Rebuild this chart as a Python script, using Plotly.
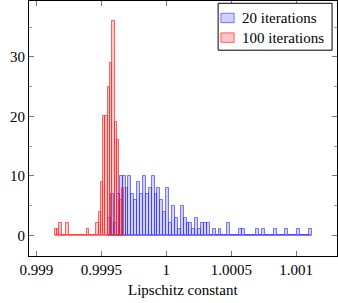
import plotly.graph_objects as go

# ---- data ----
blue_name = "20 iterations"
red_name = "100 iterations"

# 20 iterations: 70 bins
blue_first_edge = 0.9995515
blue_bin_width = 0.00002238
blue_counts = [3, 7, 2, 7, 10, 10, 8, 10, 7, 6, 9, 7, 10, 7, 8, 10, 7, 8, 6, 4,
               8, 2, 5, 3, 1, 5, 3, 2, 2, 1, 3, 1, 2, 2, 2, 0, 1, 0, 1, 0,
               0, 2, 0, 0, 0, 1, 1, 0, 0, 0, 0, 1, 0, 1, 0, 0, 0, 1, 0, 0,
               0, 1, 0, 0, 0, 1, 0, 0, 0, 1]

# 100 iterations: 30 bins
red_first_edge = 0.99914077
red_bin_width = 0.00001777
red_counts = [1, 1, 2, 0, 0, 2, 0, 0, 0, 0, 0, 0, 0, 0, 1, 0, 0, 0, 2, 4,
              9, 20, 20, 25, 29, 36, 19, 16, 6, 8]

x_tickvals = [0.999, 0.9995, 1.0, 1.0005, 1.001]
x_ticktext = ["0.999", "0.9995", "1", "1.0005", "1.001"]
y_tickvals = [0, 10, 20, 30]
y_ticktext = ["0", "10", "20", "30"]
x_title = "Lipschitz constant"

FONT = "Liberation Serif, DejaVu Serif, serif"

BLUE_FILL = "rgba(0,0,255,0.18)"
BLUE_LINE = "rgba(40,40,255,0.6)"
RED_FILL = "rgba(255,0,0,0.22)"
RED_LINE = "rgba(255,40,40,0.7)"


def centers(first, w, n):
    return [first + w * (i + 0.5) for i in range(n)]


blue_x = centers(blue_first_edge, blue_bin_width, len(blue_counts))
red_x = centers(red_first_edge, red_bin_width, len(red_counts))

fig = go.Figure()

# zero-height bins show as a baseline in the original
fig.add_trace(go.Scatter(
    x=[blue_first_edge, blue_first_edge + blue_bin_width * len(blue_counts)],
    y=[0, 0], mode="lines", line=dict(color="rgba(60,60,255,0.8)", width=1),
    showlegend=False, hoverinfo="skip"))
fig.add_trace(go.Bar(
    x=blue_x, y=blue_counts, width=blue_bin_width, name=blue_name,
    showlegend=False,
    marker=dict(color=BLUE_FILL, line=dict(color=BLUE_LINE, width=1))))

fig.add_trace(go.Scatter(
    x=[red_first_edge, red_first_edge + red_bin_width * len(red_counts)],
    y=[0, 0], mode="lines", line=dict(color="rgba(255,60,60,0.8)", width=1),
    showlegend=False, hoverinfo="skip"))
fig.add_trace(go.Bar(
    x=red_x, y=red_counts, width=red_bin_width, name=red_name,
    showlegend=False,
    marker=dict(color=RED_FILL, line=dict(color=RED_LINE, width=1))))

# legend drawn by hand (pgfplots style), in paper coordinates
shapes = [
    dict(type="rect", xref="paper", yref="paper", x0=0.614, x1=0.984,
         y0=0.807, y1=0.991, line=dict(color="black", width=1),
         fillcolor="white", layer="above"),
    dict(type="rect", xref="paper", yref="paper", x0=0.623, x1=0.666,
         y0=0.915, y1=0.952, line=dict(color=BLUE_LINE, width=1),
         fillcolor=BLUE_FILL, layer="above"),
    dict(type="rect", xref="paper", yref="paper", x0=0.623, x1=0.666,
         y0=0.838, y1=0.875, line=dict(color=RED_LINE, width=1),
         fillcolor=RED_FILL, layer="above"),
]
annotations = [
    dict(text=blue_name, xref="paper", yref="paper", x=0.685, y=0.933,
         xanchor="left", yanchor="middle", showarrow=False,
         font=dict(family=FONT, size=15, color="black")),
    dict(text=red_name, xref="paper", yref="paper", x=0.685, y=0.856,
         xanchor="left", yanchor="middle", showarrow=False,
         font=dict(family=FONT, size=15, color="black")),
    dict(text=x_title, xref="paper", yref="paper",
         x=0.5, y=-0.133, xanchor="center", yanchor="middle",
         showarrow=False, font=dict(family=FONT, size=15, color="black")),
]

fig.update_layout(
    width=338, height=303,
    margin=dict(l=29, r=1, t=1, b=47, autoexpand=False),
    barmode="overlay",
    bargap=0,
    showlegend=False,
    plot_bgcolor="white", paper_bgcolor="white",
    font=dict(family=FONT, size=15, color="black"),
    shapes=shapes,
    annotations=annotations,
)

fig.update_xaxes(
    range=[0.998943, 1.0013138], automargin=False,
    tickvals=x_tickvals, ticktext=x_ticktext,
    ticks="inside", ticklen=5, tickcolor="#777", tickwidth=1,
    showline=True, linecolor="black", linewidth=1, mirror="ticks",
    showgrid=False, zeroline=False,
)
fig.update_yaxes(
    range=[-3.47, 39.4], automargin=False,
    tickvals=y_tickvals, ticktext=y_ticktext,
    ticks="inside", ticklen=5, tickcolor="#777", tickwidth=1,
    minor=dict(tickvals=[5, 15, 25, 35], ticks="inside", ticklen=3, tickcolor="#999"),
    showline=True, linecolor="black", linewidth=1, mirror="ticks",
    showgrid=False, zeroline=False,
)

fig.write_html("out.html", config={"displayModeBar": False},
               post_script="document.body.style.margin='0';")
